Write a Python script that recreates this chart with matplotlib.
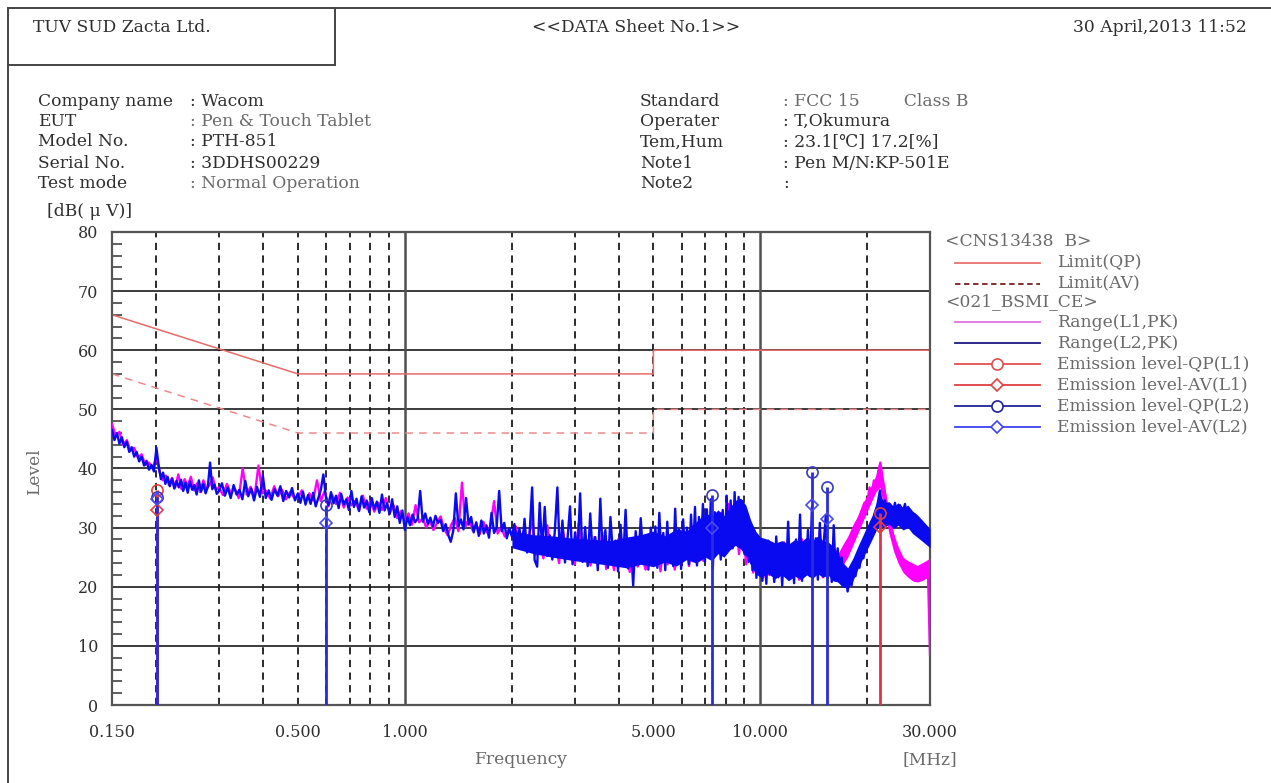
import numpy as np
import matplotlib
matplotlib.use("Agg")
import matplotlib.pyplot as plt
from matplotlib.lines import Line2D
from matplotlib.ticker import NullLocator, MultipleLocator

W, H = 1271, 783

# ---------------- limit lines (CNS13438 class B) ----------------
limit_f = [0.15, 0.5, 5.0, 5.0, 30.0]
qp_limit = [66, 56, 56, 60, 60]
av_limit = [56, 46, 46, 50, 50]

# ---------------- sweep traces, dB(uV) ----------------
# (start MHz, stop MHz, levels)
l2_segments = [
    (0.15, 0.2, [46.5, 44.8, 46.0, 44.2, 45.3, 43.6, 44.5, 42.8, 43.6, 42.0, 42.8, 41.2,
                 42.0, 40.5, 41.3, 39.8, 40.6, 39.5]),
    (0.2, 0.3, [43.5, 40.5, 38.2, 39.3, 37.4, 38.6, 37.0, 38.3, 36.6, 37.9, 36.8, 38.1,
                36.2, 37.6, 35.9, 37.8, 36.4, 37.2, 35.6, 38.0, 36.1, 37.4, 35.8, 36.9,
                41.0, 36.5, 37.3, 35.7]),
    (0.3, 0.5, [36.2, 37.5, 35.4, 36.8, 35.0, 37.2, 35.6, 36.4, 34.8, 37.9, 35.3, 36.6,
                34.6, 36.9, 35.2, 38.8, 35.0, 36.3, 34.7, 36.5, 35.4, 37.0, 34.5, 36.2,
                35.1, 36.7, 34.6]),
    (0.5, 1.0, [35.8, 34.2, 36.1, 33.9, 35.5, 34.0, 35.9, 33.6, 35.0, 36.4, 39.0, 35.2,
                33.8, 36.0, 34.1, 35.4, 33.3, 35.7, 33.9, 34.8, 33.0, 36.2, 33.5, 34.9,
                32.8, 35.3, 33.4, 34.6, 32.6, 35.0, 33.1, 34.4, 32.5, 35.6, 32.9, 34.1,
                32.3, 34.8, 31.8, 33.6, 30.8, 32.9]),
    (1.0, 2.0, [29.6, 31.8, 30.4, 32.2, 30.9, 31.5, 36.2, 31.0, 32.4, 30.6, 31.7, 30.2,
                32.0, 30.8, 31.3, 29.4, 30.6, 28.8, 27.6, 29.5, 35.8, 30.2, 31.4, 29.7,
                35.0, 30.5, 31.8, 29.2, 30.9, 28.6, 31.2, 29.0, 30.4, 28.3, 32.5, 29.1,
                30.0, 36.2, 29.4, 30.8, 28.2, 29.9]),
    (2.0, 5.0, [28.5, 30.6, 27.2, 29.8, 26.4, 31.5, 25.8, 29.0, 36.8, 24.5, 23.4, 34.2,
                26.0, 33.5, 25.2, 28.7, 24.6, 29.5, 36.8, 25.0, 31.2, 24.1, 28.0, 33.6,
                23.8, 29.2, 25.5, 35.8, 24.2, 30.1, 23.5, 32.4, 25.0, 28.4, 22.8, 34.9,
                24.6, 29.6, 23.2, 31.8, 25.4, 27.8, 22.6, 30.5, 24.0, 33.0, 23.1, 28.2,
                20.2, 29.4, 23.8, 31.6, 24.5, 27.5, 22.9, 30.0]),
    (5.0, 10.0, [24.0, 30.2, 23.2, 32.5, 25.0, 29.1, 22.8, 31.0, 24.4, 28.6, 23.5, 33.2,
                 24.8, 29.7, 23.0, 31.4, 25.6, 30.0, 23.8, 32.2, 24.9, 33.5, 23.6, 31.8,
                 26.0, 34.0, 24.2, 33.1, 25.5, 34.8, 23.0, 32.6, 25.8, 30.4, 24.6, 33.0,
                 26.2, 35.4, 27.0, 34.6, 26.5, 36.0, 27.4, 35.2, 26.8, 34.5, 25.5, 32.8,
                 24.2, 30.6, 22.8, 29.4, 21.5, 28.0]),
    (10.0, 20.0, [27.0, 21.0, 26.4, 20.5, 27.8, 22.2, 25.6, 20.8, 28.5, 21.6, 26.8, 20.2,
                  27.2, 22.5, 31.0, 21.4, 26.6, 20.6, 28.0, 22.0, 32.2, 21.0, 27.4, 22.8,
                  29.6, 21.8, 33.5, 22.4, 28.2, 21.2, 30.8, 22.6, 27.6, 32.0, 21.5, 27.0,
                  20.8, 30.4, 22.0, 26.5, 21.2, 25.0, 20.0, 22.5, 19.2, 21.0, 20.2, 22.4,
                  21.8, 24.0, 23.2, 25.6, 24.8, 27.2]),
    (20.0, 30.0, [27.2, 30.0, 29.0, 32.5, 33.8, 36.3, 33.0, 34.6, 31.8, 33.9, 32.0, 34.2,
                  31.6, 33.8, 32.4, 34.0, 31.2, 33.0, 30.6, 32.2, 29.8, 31.0, 28.6, 30.2,
                  27.8, 28.4]),
]

l1_segments = [
    (0.15, 0.2, [47.5, 45.5, 46.2, 44.0, 44.8, 43.0, 43.5, 41.8, 42.4, 40.6, 41.0, 40.0]),
    (0.2, 0.3, [42.0, 39.5, 38.0, 38.8, 37.2, 38.4, 36.8, 39.0, 36.5, 38.2, 37.0, 38.6,
                36.3, 37.5, 36.0, 38.0, 36.6, 37.2, 38.5, 36.4]),
    (0.3, 0.5, [36.8, 35.5, 37.4, 35.8, 36.6, 35.0, 40.0, 35.6, 36.9, 35.2, 40.5, 35.8,
                36.2, 34.9, 37.0, 35.3, 36.4, 34.8, 36.0, 35.1]),
    (0.5, 1.0, [35.0, 36.3, 34.2, 35.8, 34.6, 38.0, 34.5, 36.2, 33.6, 35.5, 34.0, 35.9,
                33.4, 35.1, 33.8, 34.5, 32.9, 35.4, 33.2, 34.6, 32.7, 34.2, 33.0, 35.0,
                32.4, 33.8, 31.6, 32.8]),
    (1.0, 2.0, [31.0, 32.4, 30.5, 33.8, 30.9, 31.6, 30.0, 31.2, 29.6, 30.8, 31.9, 29.8,
                28.7, 30.5, 31.6, 29.4, 37.6, 30.2, 31.5, 29.5, 30.6, 28.9, 31.0, 29.2,
                30.3, 34.5, 29.0, 30.1, 28.5, 29.6]),
    (2.0, 5.0, [28.8, 30.2, 27.0, 29.4, 26.2, 32.0, 25.4, 28.6, 24.8, 30.4, 25.6, 27.8,
                24.0, 29.5, 25.2, 27.0, 23.8, 30.8, 24.5, 26.8, 23.6, 28.4, 24.2, 29.2,
                23.0, 26.5, 22.8, 28.0, 24.0, 26.2, 22.5, 27.4, 23.4, 25.8, 22.9, 24.5]),
    (5.0, 10.0, [23.5, 27.0, 22.6, 28.5, 23.8, 26.4, 22.9, 29.0, 24.1, 27.2, 23.5, 30.2,
                 25.0, 28.0, 24.4, 31.0, 25.6, 29.5, 26.2, 32.5, 27.0, 34.0, 26.6, 33.2,
                 25.5, 31.0, 23.8, 28.6, 22.4, 26.5]),
    (10.0, 20.0, [26.0, 21.6, 25.2, 22.0, 26.8, 21.4, 24.8, 22.6, 27.5, 21.8, 25.5, 22.4,
                  26.2, 21.2, 28.0, 22.8, 25.4, 21.9, 27.0, 22.2, 29.5, 21.6, 25.8, 22.5,
                  24.6, 22.0, 24.2, 23.8, 25.6, 25.0, 27.4, 28.6, 29.8, 31.5, 32.8, 34.2]),
    (20.0, 30.0, [34.5, 36.8, 35.5, 38.0, 37.2, 39.5, 41.0, 38.5, 36.2, 34.0, 32.2, 30.0,
                  28.6, 27.0, 25.5, 24.8, 23.6, 24.2, 22.8, 23.4, 21.8, 22.6, 21.0, 22.2,
                  21.4, 23.0, 21.8, 22.6, 23.5, 8.5]),
]

# dense core of the sweeps (lower / upper edge of the solid band)
l2_band_f = [2.0, 2.3, 2.6, 3.0, 3.4, 3.8, 4.2, 4.6, 5.0, 5.4, 5.8, 6.2, 6.6, 7.0, 7.3,
             7.6, 7.9, 8.2, 8.5, 8.8, 9.1, 9.4, 9.7, 10.0, 10.5, 11.0, 11.5, 12.0, 12.5,
             13.0, 13.5, 14.0, 14.5, 15.0, 15.5, 16.0, 16.5, 17.0, 17.6, 18.2, 18.8, 19.4,
             20.0, 20.6, 21.2, 21.7, 22.3, 23.0, 23.7, 24.4, 25.2, 26.0, 26.8, 27.6, 28.4,
             29.2, 30.0]
l2_band_lo = [26.6, 25.6, 25.0, 24.4, 24.0, 23.6, 23.2, 23.8, 23.4, 24.2, 23.5, 24.6,
              24.0, 25.0, 24.4, 25.6, 25.0, 26.2, 27.0, 26.4, 25.2, 23.6, 22.2, 21.6,
              22.2, 21.4, 22.0, 21.0, 21.8, 21.2, 22.0, 21.4, 22.2, 21.6, 22.0, 21.0,
              20.8, 20.0, 19.8, 21.0, 23.0, 24.8, 26.4, 28.0, 29.6, 30.4, 30.0, 30.6,
              29.8, 30.4, 29.6, 30.0, 29.0, 28.4, 27.8, 27.2, 26.6]
l2_band_hi = [29.4, 28.8, 28.6, 28.2, 28.0, 27.8, 28.4, 28.8, 29.4, 28.6, 29.8, 29.4,
              31.0, 32.4, 32.0, 33.0, 32.0, 33.4, 34.6, 35.0, 33.8, 31.2, 29.4, 28.4,
              28.0, 27.4, 27.8, 27.2, 28.0, 27.6, 28.4, 27.8, 28.6, 27.8, 27.6, 26.8,
              25.8, 24.2, 23.2, 24.8, 26.8, 28.6, 30.4, 32.0, 34.2, 35.6, 34.2, 34.4,
              33.6, 34.2, 33.4, 33.8, 32.8, 32.2, 31.4, 30.6, 29.8]
l1_band_f = [16.5, 17.0, 17.6, 18.2, 18.8, 19.4, 20.0, 20.6, 21.2, 21.7, 22.3, 23.0, 23.7,
             24.4, 25.2, 26.0, 26.8, 27.6, 28.4, 29.2, 29.9]
l1_band_lo = [22.5, 23.5, 25.0, 27.0, 29.0, 31.0, 32.8, 34.6, 36.2, 36.8, 33.0, 29.0,
              26.0, 24.0, 22.4, 21.6, 21.0, 20.8, 21.0, 21.4, 21.6]
l1_band_hi = [25.5, 27.0, 28.5, 30.5, 32.0, 34.0, 35.6, 37.4, 39.0, 40.5, 37.0, 32.5,
              29.0, 26.8, 25.0, 24.4, 24.0, 23.6, 24.0, 24.4, 24.8]

# ---------------- final measurements ----------------
qp_l1_f = [0.2005, 21.7]
qp_l1_v = [36.3, 32.4]
av_l1_f = [0.2005, 21.7]
av_l1_v = [33.0, 30.1]
qp_l2_f = [0.2005, 0.601, 7.33, 14.0, 15.4]
qp_l2_v = [35.2, 33.8, 35.6, 39.4, 36.9]
av_l2_f = [0.2005, 0.601, 7.33, 14.0, 15.4]
av_l2_v = [34.9, 30.7, 30.0, 33.8, 31.4]

x_tick_vals = [0.15, 0.5, 1.0, 5.0, 10.0, 30.0]
x_tick_labels = ["0.150", "0.500", "1.000", "5.000", "10.000", "30.000"]
dashed_grid = [0.2, 0.3, 0.4, 0.5, 0.6, 0.7, 0.8, 0.9, 2, 3, 4, 5, 6, 7, 8, 9, 20]
solid_grid = [1, 10]


def sweep(segments):
    f, v = [], []
    for lo, hi, levels in segments:
        f.extend(np.geomspace(lo, hi, len(levels), endpoint=hi >= 30.0))
        v.extend(levels)
    return np.array(f), np.array(v)


plt.rcParams['font.family'] = ['DejaVu Serif']
TXT = '#2e2e2e'
GRY = '#6a6a6a'
FS = 12.3

fig = plt.figure(figsize=(W / 100, H / 100), dpi=100)


def px(x):
    return x / W


def py(y):
    return 1 - y / H


# ---- page frame: company box + left edge ----
frame = dict(color='#444444', lw=1.4, transform=fig.transFigure)
fig.add_artist(Line2D([px(8), px(1271)], [py(8), py(8)], **frame))
fig.add_artist(Line2D([px(8), px(8)], [py(8), py(783)], **frame))
fig.add_artist(Line2D([px(8), px(335)], [py(65), py(65)], **frame))
fig.add_artist(Line2D([px(335), px(335)], [py(8), py(65)], **frame))

# ---- header texts ----
fig.text(px(33), py(27), "TUV SUD Zacta Ltd.", fontsize=FS, color=TXT, va='center')
fig.text(px(636), py(27), "<<DATA Sheet No.1>>", fontsize=FS, color=TXT, va='center', ha='center')
fig.text(px(1247), py(27), "30 April,2013 11:52", fontsize=FS, color=TXT, va='center', ha='right')

left_rows = [("Company name", ": Wacom", TXT), ("EUT", ": Pen & Touch Tablet", GRY),
             ("Model No.", ": PTH-851", TXT), ("Serial No.", ": 3DDHS00229", TXT),
             ("Test mode", ": Normal Operation", GRY)]
right_rows = [("Standard", ": FCC 15        Class B", GRY), ("Operater", ": T,Okumura", TXT),
              ("Tem,Hum", ": 23.1[℃] 17.2[%]", TXT), ("Note1", ": Pen M/N:KP-501E", TXT),
              ("Note2", ":", TXT)]
row_y = [101, 121, 142, 163, 184]
for (lab, val, c), y in zip(left_rows, row_y):
    fig.text(px(38), py(y), lab, fontsize=FS, color=TXT, va='center')
    fig.text(px(190), py(y), val, fontsize=FS, color=c, va='center')
for (lab, val, c), y in zip(right_rows, row_y):
    fig.text(px(640), py(y), lab, fontsize=FS, color=TXT, va='center')
    fig.text(px(783), py(y), val, fontsize=FS, color=c, va='center')

# ---- plot area ----
ax = fig.add_axes([px(112), py(705), px(930) - px(112), py(232) - py(705)])
ax.set_xscale('log')
ax.set_xlim(0.15, 30)
ax.set_ylim(0, 80)

for y in range(10, 80, 10):
    ax.axhline(y, color='#1a1a1a', lw=1.2, zorder=1)
for x in dashed_grid:
    ax.axvline(x, color='#1a1a1a', lw=1.3, ls=(0, (4, 3)), zorder=1)
for x in solid_grid:
    ax.axvline(x, color='#505050', lw=1.8, zorder=1)

ax.plot(limit_f, qp_limit, color='#e86a6a', lw=1.1, zorder=2)
ax.plot(limit_f, av_limit, color='#ec8a8a', lw=1.1, ls=(0, (5, 4)), zorder=2)

MAG, BLU = '#ff00ff', '#0a0af0'
f1, v1 = sweep(l1_segments)
f2, v2 = sweep(l2_segments)
ax.fill_between(l1_band_f, l1_band_lo, l1_band_hi, color=MAG, lw=0, zorder=3)
ax.plot(f1, v1, color=MAG, lw=1.7, zorder=3)
ax.fill_between(l2_band_f, l2_band_lo, l2_band_hi, color=BLU, lw=0, zorder=4)
ax.plot(f2, v2, color=BLU, lw=1.7, zorder=4)

# stems + markers
ax.vlines(qp_l1_f, 0, np.maximum(qp_l1_v, av_l1_v), color='#e0304a', lw=2.0, zorder=5)
ax.vlines(qp_l2_f, 0, np.maximum(qp_l2_v, av_l2_v), color='#2a2ae0', lw=2.0, zorder=5)
mk = dict(ls='none', mfc='none', mew=1.2, ms=8, zorder=6)
ax.plot(qp_l1_f, qp_l1_v, marker='o', mec='#e04040', **mk)
ax.plot(av_l1_f, av_l1_v, marker='D', mec='#e04040', **dict(mk, ms=6.5))
ax.plot(qp_l2_f, qp_l2_v, marker='o', mec='#3a3ab8', **mk)
ax.plot(av_l2_f, av_l2_v, marker='D', mec='#4a4af0', **dict(mk, ms=6.5))

ax.set_xticks(x_tick_vals)
ax.set_xticklabels(x_tick_labels)
ax.xaxis.set_minor_locator(NullLocator())
ax.set_yticks(range(0, 81, 10))
ax.yaxis.set_minor_locator(MultipleLocator(2))
ax.tick_params(axis='x', length=0, pad=14, labelsize=11.5, labelcolor=TXT)
ax.tick_params(axis='y', which='major', length=0, pad=10, labelsize=11.5, labelcolor=TXT)
ax.tick_params(axis='y', which='minor', direction='in', length=7, width=1.1, color='#333333')
for s in ax.spines.values():
    s.set_color('#555555')
    s.set_linewidth(1.6)

fig.text(px(90), py(212), "[dB( μ V)]", fontsize=FS, color=TXT, ha='center', va='center')
fig.text(px(35), py(472), "Level", fontsize=FS, color=GRY, ha='center', va='center', rotation=90)
fig.text(px(521), py(760), "Frequency", fontsize=FS, color=GRY, ha='center', va='center')
fig.text(px(930), py(760), "[MHz]", fontsize=FS, color=GRY, ha='center', va='center')

# ---- legend (drawn by hand, like the data sheet) ----
leg_y = [242, 263, 284, 302, 322, 343, 364, 385, 406, 427]
fig.text(px(945), py(leg_y[0]), "<CNS13438  B>", fontsize=FS, color=GRY, va='center')
fig.text(px(945), py(leg_y[3]), "<021_BSMI_CE>", fontsize=FS, color=GRY, va='center')
entries = [
    (1, "Limit(QP)", dict(color='#e87070', ls='-'), None),
    (2, "Limit(AV)", dict(color='#7a2020', ls=(0, (3, 2))), None),
    (4, "Range(L1,PK)", dict(color='#e070e0', ls='-'), None),
    (5, "Range(L2,PK)", dict(color='#1a1a80', ls='-'), None),
    (6, "Emission level-QP(L1)", dict(color='#e05050', ls='-'), 'o'),
    (7, "Emission level-AV(L1)", dict(color='#e04040', ls='-'), 'D'),
    (8, "Emission level-QP(L2)", dict(color='#20209a', ls='-'), 'o'),
    (9, "Emission level-AV(L2)", dict(color='#4040f0', ls='-'), 'D'),
]
for row, label, style, m in entries:
    yy = py(leg_y[row])
    fig.add_artist(Line2D([px(955), px(1040)], [yy, yy], lw=1.3, transform=fig.transFigure, **style))
    if m:
        fig.add_artist(Line2D([px(997)], [yy], marker=m, ms=8 if m == 'o' else 6.5, mfc='white',
                              mec=style['color'], mew=1.2, ls='none', transform=fig.transFigure))
    fig.text(px(1057), yy, label, fontsize=FS, color=GRY, va='center')

fig.savefig("out.png", dpi=100)
